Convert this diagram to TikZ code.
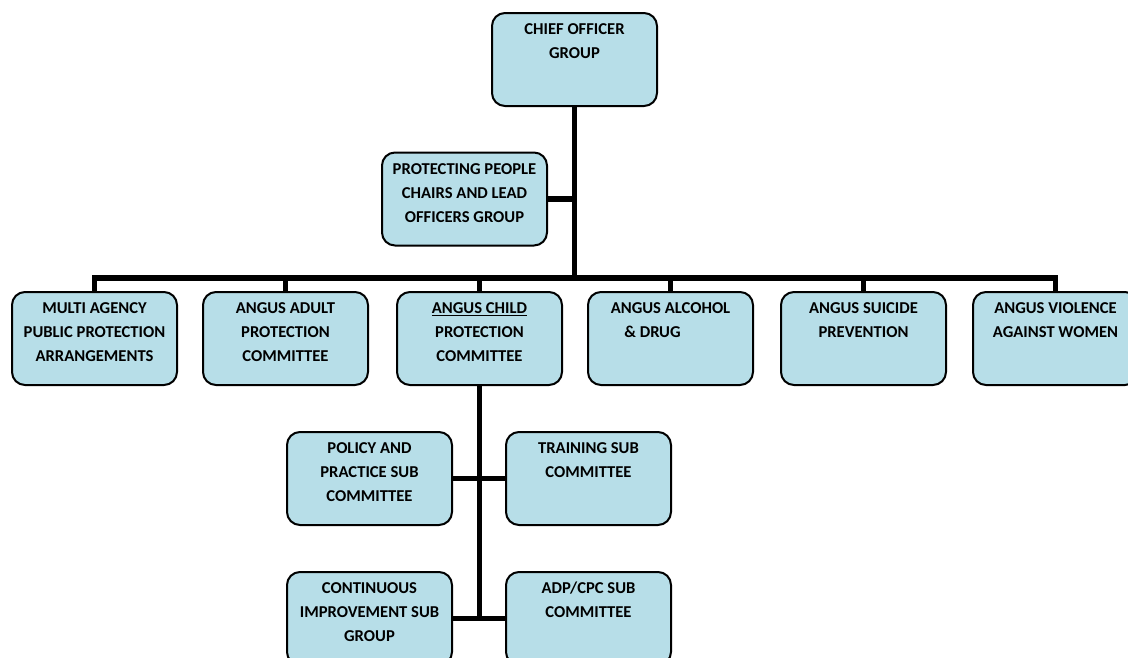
\documentclass[tikz,border=0pt]{standalone}
\usepackage{fontspec}
\setmainfont{Carlito}
\definecolor{boxblue}{HTML}{B7DEE8}
\newcommand\bxtext[1]{\parbox[b][93pt][t]{165pt}{\centering\rule{0pt}{21.5pt}#1}}
\tikzset{
  orgbox/.style={draw=black, line width=2pt, fill=boxblue, rounded corners=13pt,
    inner sep=0pt, font=\bfseries\fontsize{16.6}{24}\selectfont},
  conn/.style={draw=black, line width=5.5pt}
}
\begin{document}
\begin{tikzpicture}[x=1pt,y=-1pt]
\useasboundingbox (0,0) rectangle (1128,657);
\node[orgbox] (chief) at (574.5,59.5) {\bxtext{CHIEF OFFICER\\GROUP}};
\node[orgbox] (prot) at (464.5,199) {\bxtext{PROTECTING PEOPLE\\CHAIRS AND LEAD\\OFFICERS GROUP}};
\node[orgbox] (mappa) at (94.5,338.5) {\bxtext{MULTI AGENCY\\PUBLIC PROTECTION\\ARRANGEMENTS}};
\node[orgbox] (adult) at (285.5,338.5) {\bxtext{ANGUS ADULT\\PROTECTION\\COMMITTEE}};
\node[orgbox] (child) at (479.5,338.5) {\bxtext{\underline{ANGUS CHILD}\\PROTECTION\\COMMITTEE}};
\node[orgbox] (alc) at (670.5,338.5) {\bxtext{ANGUS ALCOHOL\\\hspace*{-36pt}\& DRUG}};
\node[orgbox] (sui) at (863.5,338.5) {\bxtext{ANGUS SUICIDE\\PREVENTION}};
\node[orgbox] (vio) at (1055.5,338.5) {\bxtext{ANGUS VIOLENCE\\AGAINST WOMEN}};
\node[orgbox] (policy) at (369.5,478.5) {\bxtext{POLICY AND\\PRACTICE SUB\\COMMITTEE}};
\node[orgbox] (training) at (588.5,478.5) {\bxtext{TRAINING SUB\\COMMITTEE}};
\node[orgbox] (cont) at (369.5,618.5) {\bxtext{CONTINUOUS\\IMPROVEMENT SUB\\GROUP}};
\node[orgbox] (adp) at (588.5,618.5) {\bxtext{ADP/CPC SUB\\COMMITTEE}};
\coordinate (bus) at (574.5,278);
\draw[conn] (chief.south) -- (chief.south |- bus);
\draw[conn] (prot.east) -- (prot.east -| chief.south);
\draw[conn] (mappa.north) -- (mappa.north |- bus) -- (vio.north |- bus) -- (vio.north);
\foreach \n in {adult,child,alc,sui} {\draw[conn] (\n.north) -- (\n.north |- bus);}
\draw[conn] (child.south) -- (child.south |- cont.east);
\draw[conn] (policy.east) -- (training.west);
\draw[conn] (cont.east) -- (adp.west);
\end{tikzpicture}
\end{document}
